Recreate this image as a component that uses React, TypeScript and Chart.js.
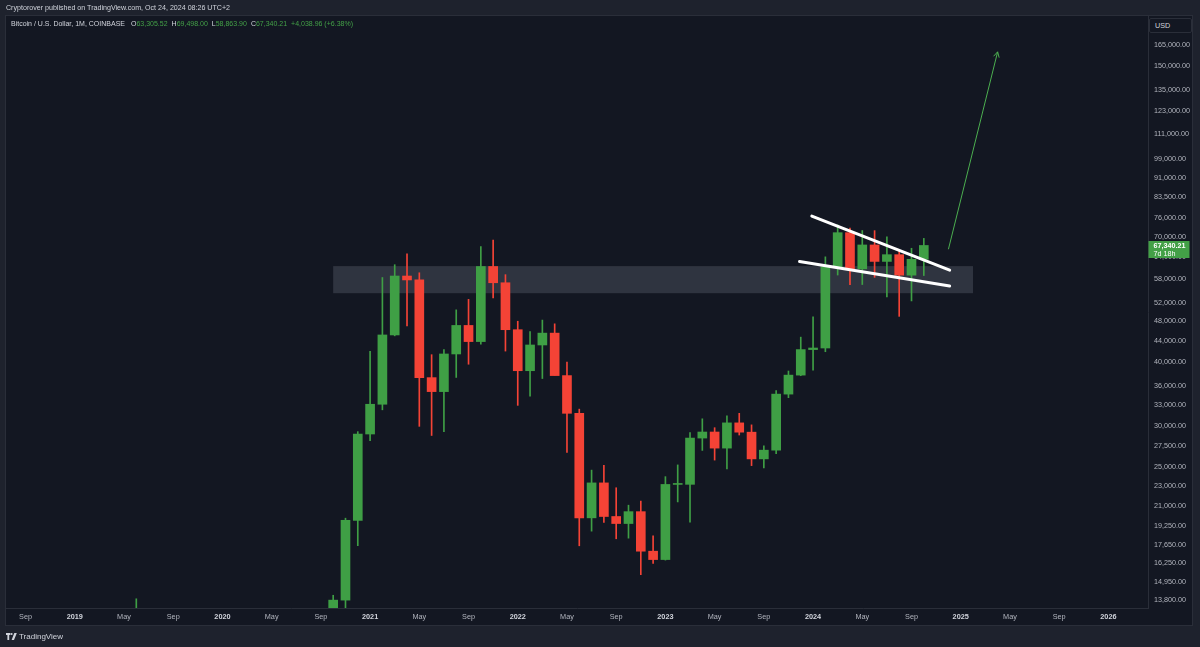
import React, { useEffect, useRef } from 'react';
import { Chart, registerables } from 'chart.js';

Chart.register(...registerables);

const FONT = '"Liberation Sans", "DejaVu Sans", sans-serif';

// ---------- data ----------
const months = [
  '2019-01','2019-02','2019-03','2019-04','2019-05','2019-06','2019-07','2019-08','2019-09','2019-10','2019-11','2019-12',
  '2020-01','2020-02','2020-03','2020-04','2020-05','2020-06','2020-07','2020-08','2020-09','2020-10','2020-11','2020-12',
  '2021-01','2021-02','2021-03','2021-04','2021-05','2021-06','2021-07','2021-08','2021-09','2021-10','2021-11','2021-12',
  '2022-01','2022-02','2022-03','2022-04','2022-05','2022-06','2022-07','2022-08','2022-09','2022-10','2022-11','2022-12',
  '2023-01','2023-02','2023-03','2023-04','2023-05','2023-06','2023-07','2023-08','2023-09','2023-10','2023-11','2023-12',
  '2024-01','2024-02','2024-03','2024-04','2024-05','2024-06','2024-07','2024-08','2024-09','2024-10',
];

const opens = [
  3690, 3410, 3820, 4100, 5320, 8570, 10820, 10090, 9590, 8290, 9150, 7540,
  7200, 9350, 8530, 6410, 8630, 9450, 9140, 11340, 11650, 10777, 13797, 19713,
  28990, 33114, 45137, 58740, 57720, 37300, 35040, 41460, 47100, 43820, 61300, 57000,
  46210, 38470, 43160, 45510, 37640, 31800, 19930, 23300, 20050, 19430, 20490, 17170,
  16540, 23140, 23150, 28470, 29250, 27220, 30470, 29230, 25940, 26970, 34650, 37720,
  42280, 42580, 61180, 71300, 60650, 67490, 62700, 64620, 58970, 63305.52,
];

const highs = [
  4070, 4200, 4150, 5620, 9100, 13880, 13130, 12330, 10950, 10540, 9520, 7750,
  9580, 10500, 9190, 9460, 10080, 10390, 11450, 12480, 12070, 14100, 19900, 29300,
  41950, 58350, 61790, 64890, 59600, 41330, 42300, 50500, 52920, 67000, 69000, 59100,
  47990, 45820, 48240, 47440, 40000, 32400, 24670, 25210, 22800, 21090, 21480, 18390,
  23960, 25250, 29190, 31030, 29820, 31430, 31800, 30200, 27490, 35200, 38420, 44700,
  48970, 64000, 73800, 72800, 71980, 71950, 70000, 65600, 66500, 69498,
];

const lows = [
  3350, 3380, 3660, 4060, 5320, 7450, 9070, 9330, 7730, 7300, 6520, 6430,
  6860, 8450, 3850, 6160, 8100, 8900, 8970, 10950, 9880, 10400, 13200, 17600,
  28130, 32300, 44960, 47000, 30000, 28800, 29300, 37330, 39600, 43300, 53250, 42000,
  32950, 34320, 37150, 37700, 26700, 17590, 18780, 19530, 18150, 18200, 15460, 16260,
  16500, 21400, 19550, 26940, 25800, 24800, 28860, 25170, 24900, 26540, 34100, 37620,
  38550, 41880, 59000, 56500, 56550, 58400, 53500, 49050, 52550, 58863.9,
];

const closes = [
  3410, 3820, 4100, 5320, 8570, 10820, 10090, 9590, 8290, 9150, 7540, 7200,
  9350, 8530, 6410, 8630, 9450, 9140, 11340, 11650, 10777, 13797, 19713, 28990,
  33114, 45137, 58740, 57720, 37300, 35040, 41460, 47100, 43820, 61300, 57000, 46210,
  38470, 43160, 45510, 37640, 31800, 19930, 23300, 20050, 19430, 20490, 17170, 16540,
  23140, 23150, 28470, 29250, 27220, 30470, 29230, 25940, 26970, 34650, 37720, 42280,
  42580, 61180, 71300, 60650, 67490, 62700, 64620, 58970, 63301.25, 67340.21,
];

const priceTicks = [
  165000, 150000, 135000, 123000, 111000, 99000, 91000, 83500, 76000, 70000, 64000,
  58000, 52000, 48000, 44000, 40000, 36000, 33000, 30000, 27500, 25000, 23000, 21000,
  19250, 17650, 16250, 14950, 13800,
];

const timeTickMonths = [
  '2018-09','2019-01','2019-05','2019-09','2020-01','2020-05','2020-09','2021-01','2021-05','2021-09',
  '2022-01','2022-05','2022-09','2023-01','2023-05','2023-09','2024-01','2024-05','2024-09',
  '2025-01','2025-05','2025-09','2026-01',
];
const timeTickLabels = [
  'Sep','2019','May','Sep','2020','May','Sep','2021','May','Sep',
  '2022','May','Sep','2023','May','Sep','2024','May','Sep',
  '2025','May','Sep','2026',
];

// drawings (month index from Jan 2019, price)
const zoneMonths = [21, 73];
const zonePrices = [54400, 61400];
const upperTrend = [{ x: 59.9, y: 76800 }, { x: 71.1, y: 60300 }];
const lowerTrend = [{ x: 58.9, y: 62700 }, { x: 71.1, y: 56200 }];
const targetArrow = [{ x: 71.0, y: 66200 }, { x: 75.0, y: 160000 }];

const lastPrice = 67340.21;
const lastPriceTimer = '7d 18h';

// ---------- helpers ----------
const monthIndex = (s: string) => {
  const [y, m] = s.split('-').map(Number);
  return (y - 2019) * 12 + (m - 1);
};
const timeTickValues = timeTickMonths.map(monthIndex);
const isYearTick = (c: any) =>
  !!c.tick && /^\d{4}$/.test(timeTickLabels[timeTickValues.indexOf(c.tick.value)] || '');

const UP = '#3f9f45';
const DOWN = '#f44336';

const fmt = (v: number) =>
  Number(v).toLocaleString('en-US', { minimumFractionDigits: 2, maximumFractionDigits: 2 });

const drawingsPlugin = {
  id: 'drawings',
  beforeDatasetsDraw(chart: any) {
    const { ctx, chartArea, scales } = chart;
    const xs = scales.x, ys = scales.y;
    ctx.save();
    ctx.beginPath();
    ctx.rect(chartArea.left, chartArea.top, chartArea.right - chartArea.left, chartArea.bottom - chartArea.top);
    ctx.clip();
    const x1 = xs.getPixelForValue(zoneMonths[0]);
    const x2 = xs.getPixelForValue(zoneMonths[1]);
    const y1 = ys.getPixelForValue(zonePrices[1]);
    const y2 = ys.getPixelForValue(zonePrices[0]);
    ctx.fillStyle = 'rgba(190,196,215,0.17)';
    ctx.fillRect(x1, y1, x2 - x1, y2 - y1);
    ctx.restore();
  },
  afterDatasetsDraw(chart: any) {
    const { ctx, scales } = chart;
    const xs = scales.x, ys = scales.y;
    const ax = xs.getPixelForValue(targetArrow[0].x), ay = ys.getPixelForValue(targetArrow[0].y);
    const bx = xs.getPixelForValue(targetArrow[1].x), by = ys.getPixelForValue(targetArrow[1].y);
    const ang = Math.atan2(by - ay, bx - ax);
    const len = 6;
    ctx.save();
    ctx.strokeStyle = '#4caf50';
    ctx.lineWidth = 1;
    ctx.beginPath();
    ctx.moveTo(bx - len * Math.cos(ang - 0.5), by - len * Math.sin(ang - 0.5));
    ctx.lineTo(bx, by);
    ctx.lineTo(bx - len * Math.cos(ang + 0.5), by - len * Math.sin(ang + 0.5));
    ctx.stroke();
    ctx.restore();
  },
  afterDraw(chart: any) {
    const { ctx, chartArea, scales } = chart;
    const y = scales.y.getPixelForValue(lastPrice);
    const left = chartArea.right + 0.5;
    ctx.save();
    ctx.fillStyle = '#43a047';
    ctx.fillRect(left, Math.round(y - 4), 41, 17);
    ctx.fillStyle = '#ffffff';
    ctx.font = `bold 7.2px ${FONT}`;
    ctx.textBaseline = 'middle';
    ctx.textAlign = 'left';
    ctx.fillText(fmt(lastPrice), left + 5, y + 0.5);
    ctx.font = `7.2px ${FONT}`;
    ctx.fillText(lastPriceTimer, left + 5, y + 8.5);
    ctx.restore();
  },
};

export default function App() {
  const ref = useRef<HTMLCanvasElement>(null);

  useEffect(() => {
    const xIdx = months.map(monthIndex);
    const colors = closes.map((c, i) => (c >= opens[i] ? UP : DOWN));
    const chart = new Chart(ref.current as HTMLCanvasElement, {
      type: 'bar',
      data: {
        datasets: [
          {
            type: 'line',
            data: upperTrend,
            borderColor: '#ffffff',
            borderWidth: 3,
            borderCapStyle: 'round',
            pointRadius: 0,
            order: 0,
          } as any,
          {
            type: 'line',
            data: lowerTrend,
            borderColor: '#ffffff',
            borderWidth: 3,
            borderCapStyle: 'round',
            pointRadius: 0,
            order: 0,
          } as any,
          {
            type: 'line',
            data: targetArrow,
            borderColor: '#4caf50',
            borderWidth: 1,
            pointRadius: 0,
            order: 0,
          } as any,
          {
            type: 'bar',
            data: xIdx.map((x, i) => ({ x, y: [opens[i], closes[i]] })),
            backgroundColor: colors,
            barThickness: 9,
            minBarLength: 1,
            grouped: false,
            borderWidth: 0,
            order: 2,
          } as any,
          {
            type: 'bar',
            data: xIdx.map((x, i) => ({ x, y: [lows[i], highs[i]] })),
            backgroundColor: colors,
            barThickness: 1,
            grouped: false,
            borderWidth: 0,
            order: 3,
          } as any,
        ],
      },
      options: {
        animation: false,
        responsive: false,
        devicePixelRatio: 1,
        layout: { padding: { left: 6, top: 16, right: 7, bottom: 21 } },
        plugins: { legend: { display: false }, tooltip: { enabled: false } },
        scales: {
          x: {
            type: 'linear',
            min: -5.59,
            max: 87.22,
            offset: false,
            grid: { display: false, drawTicks: false },
            border: { display: true, color: '#2a2e39' },
            afterFit: (s: any) => { s.height = 18; },
            afterBuildTicks: (s: any) => { s.ticks = timeTickValues.map((v) => ({ value: v })); },
            ticks: {
              autoSkip: false,
              maxRotation: 0,
              padding: 5,
              callback: (_v: any, i: number) => timeTickLabels[i],
              font: (c: any) => ({ family: FONT, size: 7.3, weight: isYearTick(c) ? 'bold' : 'normal' }),
              color: (c: any) => (isYearTick(c) ? '#d1d4dc' : '#b2b5be'),
            },
          },
          y: {
            type: 'logarithmic',
            position: 'right',
            min: 13320,
            max: 187800,
            grid: { display: false, drawTicks: false },
            border: { display: true, color: '#2a2e39' },
            afterFit: (s: any) => { s.width = 45; },
            afterBuildTicks: (s: any) => { s.ticks = priceTicks.map((v) => ({ value: v })); },
            ticks: {
              autoSkip: false,
              padding: 6,
              color: '#b2b5be',
              font: { family: FONT, size: 7.2 },
              callback: (v: any) => fmt(Number(v)),
            },
          },
        },
      } as any,
      plugins: [drawingsPlugin],
    });
    return () => chart.destroy();
  }, []);

  const g = { color: '#43a047' };
  const w = { color: '#d1d4dc' };

  return (
    <div
      style={{
        position: 'fixed', left: 0, top: 0, width: 1200, height: 647,
        background: '#1e222d', overflow: 'hidden', fontFamily: FONT,
      }}
    >
      <div
        style={{
          position: 'absolute', left: 5, top: 15, width: 1188, height: 611,
          boxSizing: 'border-box', border: '1px solid #2a2e39', background: '#131722',
        }}
      />
      <canvas
        ref={ref}
        width={1200}
        height={647}
        style={{ position: 'absolute', left: 0, top: 0, width: 1200, height: 647 }}
      />
      <div style={{ position: 'absolute', left: 6, top: 3, fontSize: 7.1, lineHeight: '11px', color: '#d1d4dc', whiteSpace: 'nowrap' }}>
        Cryptorover published on TradingView.com, Oct 24, 2024 08:26 UTC+2
      </div>
      <div style={{ position: 'absolute', left: 11, top: 19, fontSize: 7, lineHeight: '10px', whiteSpace: 'nowrap', ...w }}>
        <span>Bitcoin / U.S. Dollar, 1M, COINBASE</span>
        <span style={{ marginLeft: 6 }}>O</span><span style={g}>63,305.52</span>
        <span style={{ marginLeft: 4 }}>H</span><span style={g}>69,498.00</span>
        <span style={{ marginLeft: 4 }}>L</span><span style={g}>58,863.90</span>
        <span style={{ marginLeft: 4 }}>C</span><span style={g}>67,340.21</span>
        <span style={{ marginLeft: 4, ...g }}>+4,038.96 (+6.38%)</span>
      </div>
      <div
        style={{
          position: 'absolute', left: 1149, top: 18, width: 43, height: 15, boxSizing: 'border-box',
          border: '1px solid #2a2e39', borderRadius: 2, color: '#d1d4dc', fontSize: 7.2,
          lineHeight: '13px', paddingLeft: 5, background: '#131722',
        }}
      >
        USD
      </div>
      <div style={{ position: 'absolute', left: 6, top: 632, display: 'flex', alignItems: 'center', color: '#d1d4dc', fontSize: 8 }}>
        <svg width="11" height="7" viewBox="0 0 11 7" style={{ marginRight: 2 }}>
          <path d="M0 0h4.4v2H3.2v5H1.4V2H0z" fill="#d1d4dc" />
          <circle cx="5.6" cy="1" r="1" fill="#d1d4dc" />
          <path d="M8.3 0h2.5L8 7H5.6z" fill="#d1d4dc" />
        </svg>
        <span>TradingView</span>
      </div>
    </div>
  );
}
